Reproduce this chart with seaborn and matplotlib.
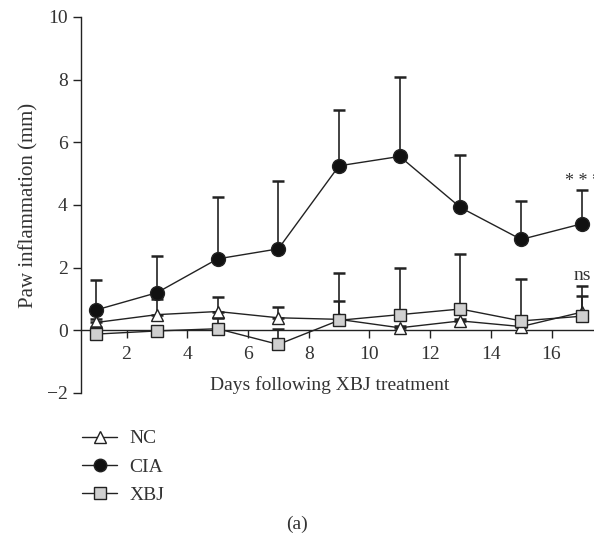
import numpy as np
import pandas as pd
import seaborn as sns
import matplotlib
matplotlib.use("Agg")
import matplotlib.pyplot as plt
from matplotlib.lines import Line2D

days = [1, 3, 5, 7, 9, 11, 13, 15, 17]
groups = ["NC", "CIA", "XBJ"]
nc_mean = [0.25, 0.50, 0.60, 0.40, 0.35, 0.08, 0.30, 0.12, 0.58]
nc_upper = [0.35, 1.00, 1.05, 0.75, 0.93, 0.15, 0.35, 0.45, 1.10]
cia_mean = [0.65, 1.20, 2.28, 2.60, 5.25, 5.55, 3.92, 2.90, 3.40]
cia_upper = [1.60, 2.38, 4.27, 4.78, 7.03, 8.08, 5.60, 4.12, 4.48]
xbj_mean = [-0.12, -0.02, 0.05, -0.45, 0.32, 0.50, 0.68, 0.30, 0.45]
xbj_upper = [0.10, 0.10, 0.40, 0.03, 1.83, 2.00, 2.42, 1.63, 1.42]

sns.set_theme(style="ticks")
plt.rcParams["font.family"] = ["Liberation Serif", "DejaVu Serif"]

df = pd.DataFrame({
    "day": days * 3,
    "value": nc_mean + cia_mean + xbj_mean,
    "group": ["NC"] * 9 + ["CIA"] * 9 + ["XBJ"] * 9,
})

FS = 14
TXT = "#333333"

fig = plt.figure(figsize=(5.94, 5.41), dpi=100)
ax = fig.add_axes([0.1364, 0.2736, 0.8636, 0.695])

styles = {
    "NC": dict(marker="^", mfc="white", ms=9, z=3),
    "CIA": dict(marker="o", mfc="#111111", ms=10, z=4),
    "XBJ": dict(marker="s", mfc="#d0d0d0", ms=9, z=5),
}
means = {"NC": nc_mean, "CIA": cia_mean, "XBJ": xbj_mean}
uppers = {"NC": nc_upper, "CIA": cia_upper, "XBJ": xbj_upper}

for g in groups:
    m = np.array(means[g]); u = np.array(uppers[g])
    ax.errorbar(days, m, yerr=[np.zeros_like(m), u - m], fmt="none",
                ecolor="#222222", elinewidth=1.2, capsize=4.5, capthick=1.8,
                zorder=styles[g]["z"] - 0.5)

for g in groups:
    s = styles[g]
    sns.lineplot(data=df[df.group == g], x="day", y="value", ax=ax,
                 color="#222222", linewidth=1.0, marker=s["marker"],
                 markersize=s["ms"], markerfacecolor=s["mfc"],
                 markeredgecolor="#222222", markeredgewidth=1.0,
                 zorder=s["z"], legend=False)

ax.set_xlim(0.5, 17.4)
ax.set_ylim(-2, 10)
ax.set_xticks([2, 4, 6, 8, 10, 12, 14, 16])
ax.set_yticks([-2, 0, 2, 4, 6, 8, 10])
ax.set_yticklabels(["\u22122", "0", "2", "4", "6", "8", "10"])
ax.spines["bottom"].set_position(("data", 0))
ax.spines["top"].set_visible(False)
ax.spines["right"].set_visible(False)
for sp in ["left", "bottom"]:
    ax.spines[sp].set_color("#222222")
    ax.spines[sp].set_linewidth(1.0)
ax.tick_params(axis="both", direction="out", length=6, width=1.0,
               colors="#222222", labelsize=FS, labelcolor=TXT)
ax.tick_params(axis="x", pad=5)
ax.set_xlabel("")
ax.set_ylabel("Paw inflammation (mm)", fontsize=FS + 1, color=TXT, labelpad=6)

fig.text(0.555, 0.2885, "Days following XBJ treatment", ha="center", va="center",
         fontsize=FS, color=TXT)
ax.text(16.45, 4.75, "* * *", ha="left", va="center", fontsize=13, color=TXT,
        clip_on=False)
ax.text(17.0, 1.75, "ns", ha="center", va="center", fontsize=FS, color=TXT,
        clip_on=False)

handles = []
for g in groups:
    s = styles[g]
    handles.append(Line2D([0], [0], color="#222222", lw=1.0, marker=s["marker"],
                          ms=s["ms"] - 1, mfc=s["mfc"], mec="#222222", mew=1.0))
fig.legend(handles, groups, loc="upper left", bbox_to_anchor=(0.1086, 0.238),
           frameon=False, fontsize=FS, handlelength=1.8, handletextpad=0.65,
           labelspacing=0.55, labelcolor=TXT)

fig.text(0.5, 0.03, "(a)", ha="center", va="center", fontsize=FS, color=TXT)

fig.savefig("out.png", dpi=100)
